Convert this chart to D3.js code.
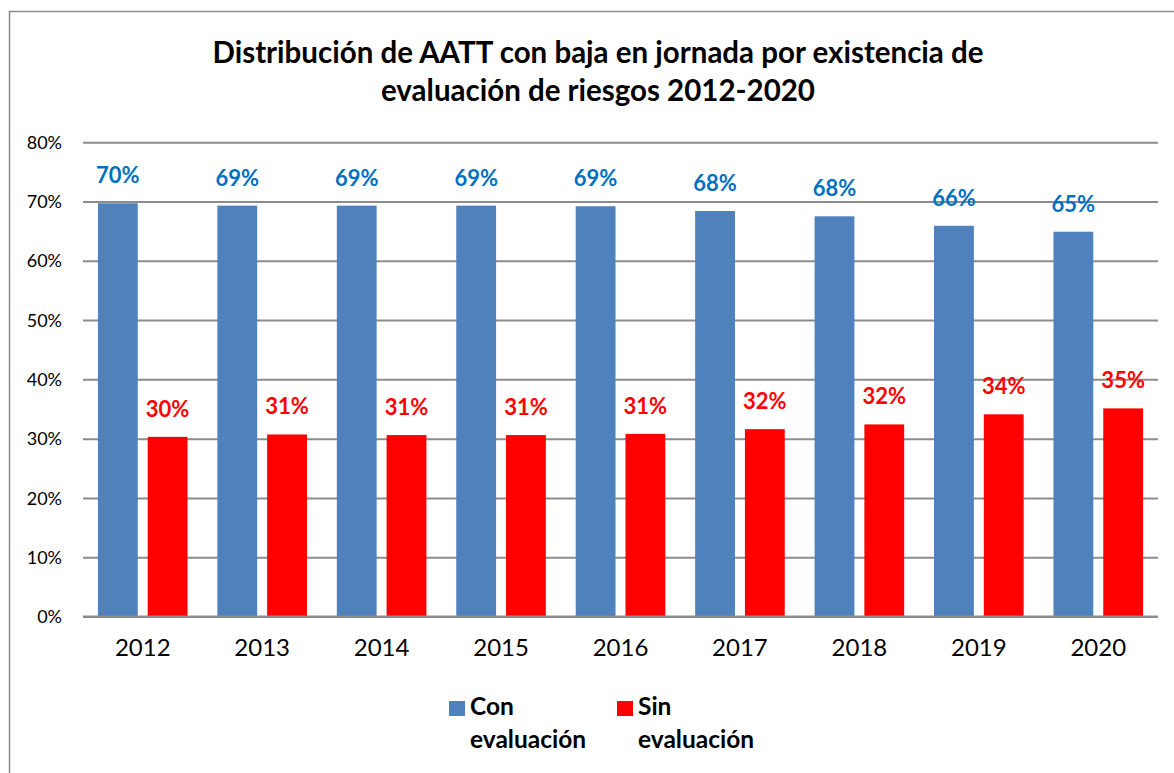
<!DOCTYPE html>
<html>
<head>
<meta charset="utf-8">
<script src="https://cdn.jsdelivr.net/npm/d3@7"></script>
<style>
  html, body { margin: 0; padding: 0; background: #fff; }
  svg { display: block; }
  text { font-family: Lato, "Open Sans", sans-serif; }
</style>
</head>
<body>
<svg id="chart" width="1174" height="773"></svg>
<script>
// Años del eje de categorías
const years = ["2012", "2013", "2014", "2015", "2016", "2017", "2018", "2019", "2020"];
// Porcentaje de AATT con baja con evaluación de riesgos
const conEvaluacion = [0.697, 0.693, 0.693, 0.693, 0.692, 0.684, 0.675, 0.659, 0.649];
// Porcentaje de AATT con baja sin evaluación de riesgos
const sinEvaluacion = [0.303, 0.307, 0.306, 0.306, 0.308, 0.316, 0.324, 0.341, 0.351];
// Marcas del eje de valores
const yTicks = [0, 0.1, 0.2, 0.3, 0.4, 0.5, 0.6, 0.7, 0.8];
const seriesNames = ["Con evaluación", "Sin evaluación"];
const titleLines = ["Distribución de AATT con baja en jornada por existencia de",
                    "evaluación de riesgos 2012-2020"];

const barColors = ["#4F81BD", "#FF0000"];
const labelColors = ["#0070C0", "#FF0000"];

const svg = d3.select("#chart");

// Marco del gráfico
svg.append("rect")
  .attr("x", 9.5).attr("y", 11.5)
  .attr("width", 1200).attr("height", 800)
  .attr("fill", "#fff")
  .attr("stroke", "#8c8c8c").attr("stroke-width", 1.5);

// Título en dos líneas
const title = svg.append("text")
  .attr("text-anchor", "middle")
  .attr("font-weight", "bold")
  .attr("font-size", 29.5)
  .attr("fill", "#000");
title.selectAll("tspan").data(titleLines).join("tspan")
  .attr("x", 598)
  .attr("y", (d, i) => 63 + i * 38)
  .text(d => d);

const plot = { left: 83, right: 1158, top: 142.2, bottom: 616.5 };

const y = d3.scaleLinear().domain([0, 0.8]).range([plot.bottom, plot.top]);
const x = d3.scaleBand().domain(years).range([plot.left, plot.right]);
const xs = d3.scaleBand().domain([0, 1]).range([0, x.bandwidth()])
  .paddingInner(0.2).paddingOuter(0.3);

// Líneas de cuadrícula y etiquetas del eje Y
const yAxis = d3.axisLeft(y)
  .tickValues(yTicks)
  .tickFormat(d3.format(".0%"))
  .tickSize(-(plot.right - plot.left))
  .tickPadding(21);
const gy = svg.append("g")
  .attr("transform", `translate(${plot.left},0)`)
  .call(yAxis);
gy.select(".domain").remove();
gy.selectAll(".tick line").attr("stroke", "#8c8c8c").attr("stroke-width", 2);
gy.selectAll(".tick text")
  .attr("font-size", 18)
  .attr("font-family", "Lato, sans-serif")
  .attr("fill", "#000")
  .attr("dy", "0.34em");

// Barras agrupadas
const rows = years.map((yr, i) => ({ year: yr, values: [conEvaluacion[i], sinEvaluacion[i]] }));
const groups = svg.append("g").selectAll("g").data(rows).join("g")
  .attr("transform", d => `translate(${x(d.year)},0)`);

groups.selectAll("rect").data(d => d.values.map((v, s) => ({ v, s }))).join("rect")
  .attr("x", d => xs(d.s))
  .attr("width", xs.bandwidth())
  .attr("y", d => y(d.v))
  .attr("height", d => y(0) - y(d.v))
  .attr("fill", d => barColors[d.s]);

groups.selectAll("text.val").data(d => d.values.map((v, s) => ({ v, s }))).join("text")
  .attr("class", "val")
  .attr("x", d => xs(d.s) + xs.bandwidth() / 2)
  .attr("y", d => y(d.v) - 20)
  .attr("text-anchor", "middle")
  .attr("font-weight", "bold")
  .attr("font-size", 22)
  .attr("fill", d => labelColors[d.s])
  .text(d => d3.format(".0%")(d.v));

// Línea base
svg.append("line")
  .attr("x1", plot.left).attr("x2", plot.right)
  .attr("y1", y(0)).attr("y2", y(0))
  .attr("stroke", "#8c8c8c").attr("stroke-width", 2);

// Etiquetas del eje X
const xAxis = d3.axisBottom(x).tickSize(0).tickPadding(22);
const gx = svg.append("g")
  .attr("transform", `translate(0,${plot.bottom})`)
  .call(xAxis);
gx.select(".domain").remove();
gx.selectAll(".tick text")
  .attr("font-size", 24)
  .attr("font-family", "Lato, sans-serif")
  .attr("fill", "#000")
  .attr("dy", "0.71em");

// Leyenda
const legendX = [449, 617];
const legend = svg.append("g").selectAll("g").data(seriesNames).join("g")
  .attr("transform", (d, i) => `translate(${legendX[i]},701)`);
legend.append("rect")
  .attr("width", 16).attr("height", 15)
  .attr("fill", (d, i) => barColors[i]);
const lt = legend.append("text")
  .attr("font-weight", "bold")
  .attr("font-size", 24.5)
  .attr("fill", "#000");
lt.selectAll("tspan").data(d => d.split(" ")).join("tspan")
  .attr("x", 21)
  .attr("y", (d, i) => 14 + i * 33)
  .text(d => d);
</script>
</body>
</html>
